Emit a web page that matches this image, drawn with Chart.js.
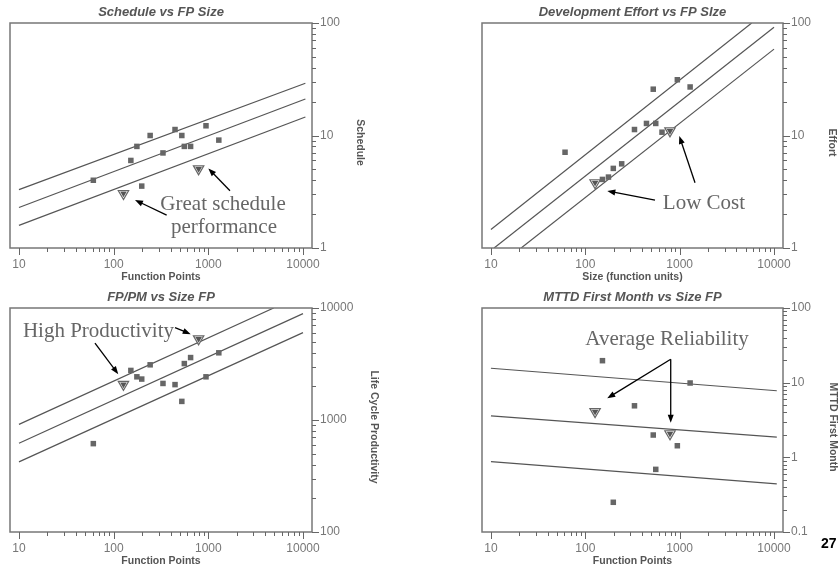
<!DOCTYPE html>
<html>
<head>
<meta charset="utf-8">
<script src="https://cdn.jsdelivr.net/npm/chart.js@4/dist/chart.umd.min.js"></script>
<style>
  html, body { margin: 0; padding: 0; background: #fff; }
  body { width: 838px; height: 569px; position: relative; overflow: hidden; }
  canvas { position: absolute; }
  .page-no { position: absolute; left: 821px; top: 535px; font: bold 14px "Liberation Sans", Arial, sans-serif; color: #000; }
</style>
</head>
<body>
<canvas id="schedule" width="420" height="284" style="left:0;top:0"></canvas>
<canvas id="effort" width="418" height="284" style="left:420px;top:0"></canvas>
<canvas id="productivity" width="420" height="285" style="left:0;top:284px"></canvas>
<canvas id="mttd" width="418" height="285" style="left:420px;top:284px"></canvas>
<div class="page-no">27</div>
<script>
// project sizes (function points), same projects in every panel
const projectSize = [61, 152, 176, 198, 243, 332, 445, 525, 558, 650, 945, 1291];
const highlightSize = [127, 790];

const scheduleValues = [4.0, 6.0, 8.0, 3.55, 10.0, 7.0, 11.3, 10.0, 8.0, 8.0, 12.2, 9.1];
const scheduleHighlight = [3.05, 5.05];
const effortValues = [7.1, 4.07, 4.27, 5.1, 5.6, 11.3, 12.8, 25.8, 12.8, 10.7, 31.3, 27];
const effortHighlight = [3.8, 11.0];
const productivityValues = [615, 2770, 2430, 2320, 3110, 2120, 2070, 1466, 3190, 3610, 2430, 3980];
const productivityHighlight = [2080, 5300];
const mttdValues = [null, 19.7, null, 0.25, null, 4.9, null, 1.99, 0.69, null, 1.43, 9.9];
const mttdHighlight = [4.1, 2.07];

// trend bands (upper, middle, lower): end points of each line
const scheduleTrendX = [[10, 10600], [10, 10600], [10, 10600]];
const scheduleTrendY = [[3.3, 29.1], [2.29, 21.1], [1.59, 14.6]];
const effortTrendX = [[10, 5800], [10.8, 10000], [20.9, 10000]];
const effortTrendY = [[1.46, 100], [1, 91.5], [1, 58.6]];
const productivityTrendX = [[10, 4900], [10, 10000], [10, 10000]];
const productivityTrendY = [[914, 10000], [620, 8900], [423, 6030]];
const mttdTrendX = [[10, 10700], [10, 10700], [10, 10700]];
const mttdTrendY = [[15.6, 7.8], [3.6, 1.87], [0.875, 0.44]];

// tick labels
const sizeTicks = ['10', '100', '1000', '10000'];
const scheduleTicks = ['1', '10', '100'];
const effortTicks = ['1', '10', '100'];
const productivityTicks = ['100', '1000', '10000'];
const mttdTicks = ['0.1', '1', '10', '100'];

const SANS = '"Liberation Sans", Arial, Helvetica, sans-serif';
const SERIF = '"Liberation Serif", "Times New Roman", serif';

function isDecade(v) {
    const l = Math.log10(v);
    return Math.abs(l - Math.round(l)) < 1e-9;
}

// decade ticks plus 2..9 minors between them
function logTicks(labels) {
    const decades = labels.map(Number);
    const out = [];
    for (let i = 0; i < decades.length - 1; i++) {
        for (let k = 1; k < 10; k++) {
            out.push({ value: +(k * decades[i]).toPrecision(6), decade: k === 1 });
        }
    }
    out.push({ value: decades[decades.length - 1], decade: true });
    return out;
}

function pairs(xs, ys) {
    return xs.map((x, i) => ({ x: x, y: ys[i] }));
}

function drawArrow(ctx, x1, y1, x2, y2) {
    const ang = Math.atan2(y2 - y1, x2 - x1);
    const len = 8, half = 3;
    ctx.beginPath();
    ctx.moveTo(x1, y1);
    ctx.lineTo(x2 - Math.cos(ang) * len * 0.8, y2 - Math.sin(ang) * len * 0.8);
    ctx.stroke();
    ctx.beginPath();
    ctx.moveTo(x2, y2);
    ctx.lineTo(x2 - Math.cos(ang) * len - Math.sin(ang) * half, y2 - Math.sin(ang) * len + Math.cos(ang) * half);
    ctx.lineTo(x2 - Math.cos(ang) * len + Math.sin(ang) * half, y2 - Math.sin(ang) * len - Math.cos(ang) * half);
    ctx.closePath();
    ctx.fill();
}

// box, tick marks, titles and call-outs
const framePlugin = {
    id: 'frame',
    afterDraw(chart, args, opts) {
        const { ctx, chartArea: a, scales } = chart;
        const xs = scales.x, ys = scales.y;
        ctx.save();

        ctx.strokeStyle = '#777';
        ctx.lineWidth = 1.5;
        ctx.strokeRect(a.left, a.top, a.right - a.left, a.bottom - a.top);

        ctx.lineWidth = 1;
        ctx.strokeStyle = '#666';
        xs.ticks.forEach(t => {
            const px = Math.round(xs.getPixelForValue(t.value)) + 0.5;
            ctx.beginPath();
            ctx.moveTo(px, a.bottom);
            ctx.lineTo(px, a.bottom + (t.decade ? 7 : 4));
            ctx.stroke();
        });
        ys.ticks.forEach(t => {
            const py = Math.round(ys.getPixelForValue(t.value)) + 0.5;
            ctx.beginPath();
            ctx.moveTo(a.right, py);
            ctx.lineTo(a.right + (t.decade ? 7 : 4), py);
            ctx.stroke();
        });

        const cx = (a.left + a.right) / 2;
        ctx.fillStyle = '#555';
        ctx.textAlign = 'center';
        ctx.textBaseline = 'middle';
        ctx.font = 'italic bold 13px ' + SANS;
        ctx.fillText(opts.title, cx, a.top - 11);
        ctx.font = 'bold 10.5px ' + SANS;
        ctx.fillText(opts.xTitle, cx, a.bottom + 29);
        ctx.save();
        ctx.translate(a.right + opts.yTitleOffset, (a.top + a.bottom) / 2 + 7);
        ctx.rotate(Math.PI / 2);
        ctx.fillText(opts.yTitle, 0, 0);
        ctx.restore();

        ctx.font = '21px ' + SERIF;
        ctx.fillStyle = '#666';
        ctx.textBaseline = 'alphabetic';
        opts.notes.forEach(n => {
            ctx.textAlign = n.align || 'center';
            ctx.fillText(n.text, xs.getPixelForValue(n.x), ys.getPixelForValue(n.y));
        });

        ctx.strokeStyle = '#000';
        ctx.fillStyle = '#000';
        ctx.lineWidth = 1.3;
        opts.arrows.forEach(ar => {
            drawArrow(ctx,
                xs.getPixelForValue(ar.from[0]), ys.getPixelForValue(ar.from[1]),
                xs.getPixelForValue(ar.to[0]), ys.getPixelForValue(ar.to[1]));
        });
        ctx.restore();
    }
};

function makePanel(id, p) {
    const trendSets = p.trendX.map((xs, i) => ({
        data: pairs(xs, p.trendY[i]),
        showLine: true,
        borderColor: '#555',
        borderWidth: 1.2,
        pointRadius: 0,
        order: 3
    }));
    const yTicks = logTicks(p.yTicks);
    const xTicks = logTicks(sizeTicks);

    return new Chart(document.getElementById(id), {
        type: 'scatter',
        data: {
            datasets: trendSets.concat([
                {
                    data: pairs(projectSize, p.values).filter(d => d.y !== null),
                    pointStyle: 'rect',
                    pointRadius: 3.9,
                    borderWidth: 0,
                    backgroundColor: '#666',
                    order: 2
                },
                {
                    data: pairs(highlightSize, p.highlight),
                    pointStyle: 'triangle',
                    rotation: 180,
                    pointRadius: 6,
                    borderWidth: 1.2,
                    borderColor: '#666',
                    backgroundColor: '#fff',
                    order: 1
                },
                {
                    data: pairs(highlightSize, p.highlight),
                    pointStyle: 'triangle',
                    rotation: 180,
                    pointRadius: 3.8,
                    borderWidth: 0,
                    backgroundColor: '#555',
                    order: 0
                }
            ])
        },
        options: {
            responsive: false,
            animation: false,
            events: [],
            layout: { padding: p.padding },
            plugins: {
                legend: { display: false },
                tooltip: { enabled: false },
                frame: p.frame
            },
            scales: {
                x: {
                    type: 'logarithmic',
                    min: 8.04,
                    max: 12450,
                    afterBuildTicks: s => { s.ticks = xTicks.map(t => Object.assign({}, t)); },
                    afterFit: s => { s.height = 20; },
                    grid: { drawOnChartArea: false, drawTicks: true, tickLength: 7, tickColor: 'rgba(0,0,0,0)' },
                    border: { display: false },
                    ticks: {
                        autoSkip: false,
                        maxRotation: 0,
                        padding: 2,
                        color: '#777',
                        font: { family: SANS, size: 12 },
                        callback: v => isDecade(v) ? String(v) : ''
                    }
                },
                y: {
                    type: 'logarithmic',
                    position: 'right',
                    min: Number(p.yTicks[0]),
                    max: Number(p.yTicks[p.yTicks.length - 1]),
                    afterBuildTicks: s => { s.ticks = yTicks.map(t => Object.assign({}, t)); },
                    afterFit: s => { s.width = p.yWidth; },
                    grid: { drawOnChartArea: false, drawTicks: true, tickLength: 7, tickColor: 'rgba(0,0,0,0)' },
                    border: { display: false },
                    ticks: {
                        autoSkip: false,
                        padding: 1,
                        color: '#777',
                        font: { family: SANS, size: 12 },
                        callback: v => isDecade(v) ? p.yTicks.find(l => Math.abs(Number(l) - v) < 1e-9 * v) : ''
                    }
                }
            }
        },
        plugins: [framePlugin]
    });
}

makePanel('schedule', {
    values: scheduleValues, highlight: scheduleHighlight,
    trendX: scheduleTrendX, trendY: scheduleTrendY,
    yTicks: scheduleTicks, yWidth: 50,
    padding: { left: 10, top: 23, right: 58, bottom: 16 },
    frame: {
        title: 'Schedule vs FP Size', xTitle: 'Function Points', yTitle: 'Schedule', yTitleOffset: 48,
        notes: [
            { text: 'Great schedule', x: 1430, y: 2.18 },
            { text: 'performance', x: 1462, y: 1.36 }
        ],
        arrows: [
            { from: [363, 1.96], to: [168, 2.67] },
            { from: [1694, 3.23], to: [1000, 5.1] }
        ]
    }
});

makePanel('effort', {
    values: effortValues, highlight: effortHighlight,
    trendX: effortTrendX, trendY: effortTrendY,
    yTicks: effortTicks, yWidth: 40,
    padding: { left: 62, top: 23, right: 15, bottom: 16 },
    frame: {
        title: 'Development Effort vs FP SIze', xTitle: 'Size (function units)', yTitle: 'Effort', yTitleOffset: 49,
        notes: [
            { text: 'Low Cost', x: 1811, y: 2.22 }
        ],
        arrows: [
            { from: [548, 2.67], to: [171, 3.21] },
            { from: [1455, 3.8], to: [991, 9.9] }
        ]
    }
});

makePanel('productivity', {
    values: productivityValues, highlight: productivityHighlight,
    trendX: productivityTrendX, trendY: productivityTrendY,
    yTicks: productivityTicks, yWidth: 50,
    padding: { left: 10, top: 24, right: 58, bottom: 17 },
    frame: {
        title: 'FP/PM vs Size FP', xTitle: 'Function Points', yTitle: 'Life Cycle Productivity', yTitleOffset: 62,
        notes: [
            { text: 'High Productivity', x: 11.0, y: 5550, align: 'left' }
        ],
        arrows: [
            { from: [63.5, 4850], to: [112, 2566] },
            { from: [445, 6680], to: [652, 5840] }
        ]
    }
});

makePanel('mttd', {
    values: mttdValues, highlight: mttdHighlight,
    trendX: mttdTrendX, trendY: mttdTrendY,
    yTicks: mttdTicks, yWidth: 40,
    padding: { left: 62, top: 24, right: 15, bottom: 17 },
    frame: {
        title: 'MTTD First Month vs Size FP', xTitle: 'Function Points', yTitle: 'MTTD First Month', yTitleOffset: 50,
        notes: [
            { text: 'Average Reliability', x: 735, y: 31.9 }
        ],
        arrows: [
            { from: [804, 20.6], to: [171, 6.18] },
            { from: [804, 20.6], to: [804, 2.91] }
        ]
    }
});
</script>
</body>
</html>
